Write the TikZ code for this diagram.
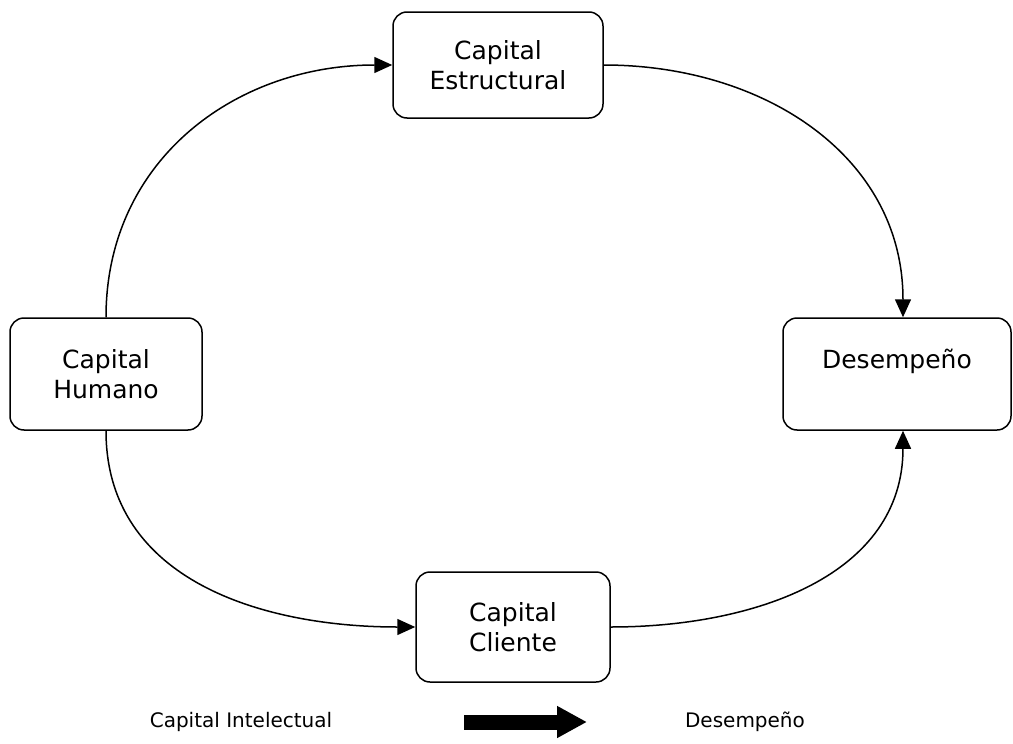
\documentclass[tikz,border=0pt]{standalone}
\usepackage{fontspec}
\setmainfont{DejaVu Sans}
\usetikzlibrary{arrows.meta}
\tikzset{
  box/.style={draw, rounded corners=7pt, line width=0.75pt, align=center,
    font=\fontsize{12.5}{15}\selectfont},
  link/.style={line width=0.75pt, -{Triangle[length=9pt,width=8pt]}},
  legend/.style={font=\fontsize{10}{12}\selectfont}
}
\begin{document}
\begin{tikzpicture}[x=0.5pt,y=-0.5pt]
      \useasboundingbox (0,0) rectangle (1013,744);
      \draw
        (498,65) node[box, minimum width=105pt, minimum height=53pt] (est){Capital\\Estructural}
        (106,374) node[box, minimum width=96pt, minimum height=56pt] (hum){Capital\\Humano}
        (897,374) node[box, minimum width=114pt, minimum height=56pt] (des){Desempeño\\\mbox{}}
        (513,627) node[box, minimum width=97pt, minimum height=55pt] (cli){Capital\\Cliente};
      \begin{scope}[link]
        \draw (hum.north) to[out=90, in=180, looseness=1.05] (est.west);
        \draw (est.east) to[out=0, in=90, looseness=1.05] ([xshift=3pt]des.north);
        \draw (hum.south) to[out=-90, in=180, looseness=1.05] (cli.west);
        \draw (cli.east) to[out=0, in=-90, looseness=1.05] ([xshift=3pt]des.south);
      \end{scope}
      \node[legend] (ci) at (241,722) {Capital Intelectual};
      \node[legend] (de) at (745,722) {Desempeño};
      \coordinate (a0) at (464,722);
      \coordinate (a1) at (587,722);
      \draw[line width=7.5pt, -{Triangle[length=15pt,width=15pt]}] (a0) -- (a1);
    \end{tikzpicture}
\end{document}
